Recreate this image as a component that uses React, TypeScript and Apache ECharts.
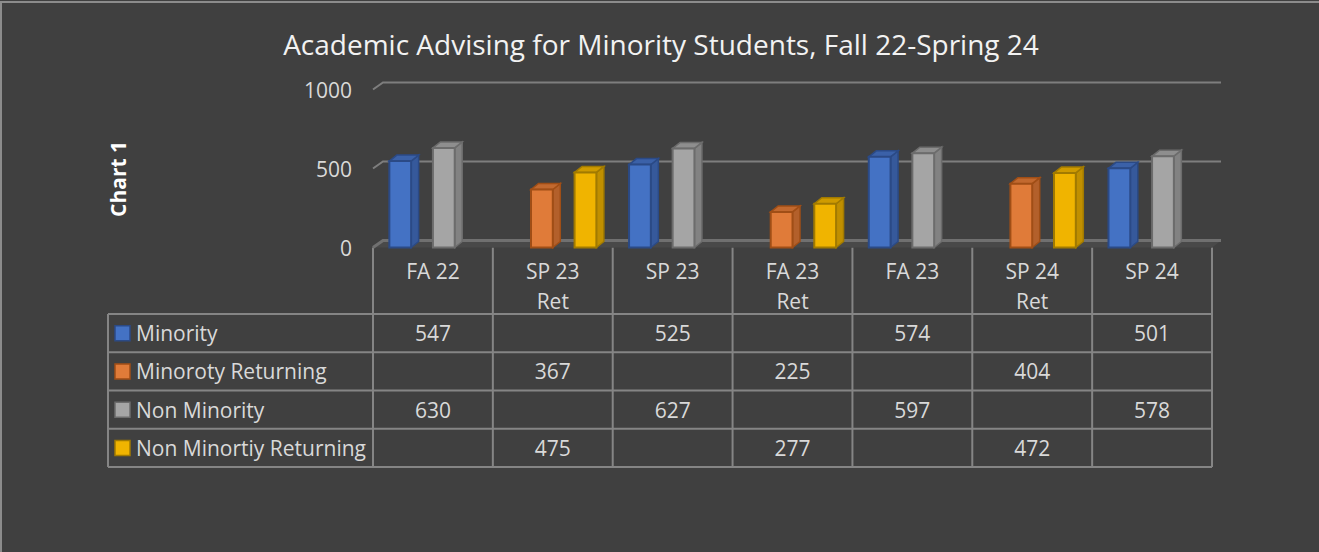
import React, { useEffect, useRef } from "react";
import * as echarts from "echarts";

const categories = ["FA 22", "SP 23\nRet", "SP 23", "FA 23\nRet", "FA 23", "SP 24\nRet", "SP 24"];
const seriesNames = ["Minority", "Minoroty Returning", "Non Minority", "Non Minortiy Returning"];
const minority = [547, null, 525, null, 574, null, 501];
const minorityReturning = [null, 367, null, 225, null, 404, null];
const nonMinority = [630, null, 627, null, 597, null, 578];
const nonMinorityReturning = [null, 475, null, 277, null, 472, null];
const yTicks = [0, 500, 1000];

const seriesValues = [minority, minorityReturning, nonMinority, nonMinorityReturning];
const faceColors = ["#4472C4", "#E07B39", "#A5A5A5", "#F0B400"];
const sideColors = ["#36599B", "#B3602B", "#828282", "#C08F00"];
const topColors = ["#3B61A8", "#C2692F", "#8E8E8E", "#CF9B00"];
const edgeColors = ["#2B4A86", "#A04E16", "#6C6C6C", "#A17A00"];

const FONT = "'Open Sans', 'DejaVu Sans', sans-serif";
const W = 1319;
const H = 552;
const DIV_W = W + 12;
const GRID_LEFT = 373;
const GRID_RIGHT_X = 1212;
const FLOOR_Y = 247.5;
const TOP_Y = 89.5;
const DX = 7.5;
const DY = -6;
const WALL_DX = 10;
const WALL_DY = -7;
const TABLE_LEFT = 108;
const ROW_Y = [314, 352.25, 390.5, 428.75, 467];
const TEXT_COLOR = "#d9d9d9";
const LINE_COLOR = "#858585";

export default function App() {
  const ref = useRef<HTMLDivElement>(null);

  useEffect(() => {
    document.body.style.margin = "0";
    document.body.style.background = "#404040";
    document.documentElement.style.background = "#404040";
    document.body.style.overflow = "hidden";
    document.documentElement.style.overflow = "hidden";
    const chart = echarts.init(ref.current!, null, { renderer: "svg" });
    const colW = (GRID_RIGHT_X - GRID_LEFT) / categories.length;

    const graphics: any[] = [];
    // outer border (top and left edges visible)
    graphics.push({
      type: "polyline",
      shape: { points: [[1, H + 10], [1, 2], [DIV_W + 10, 2]] },
      style: { fill: "none", stroke: "#8c8c8c", lineWidth: 2 },
      silent: true,
    });
    // title
    graphics.push({
      type: "text",
      x: 661,
      y: 43.5,
      style: {
        text: "Academic Advising for Minority Students, Fall 22-Spring 24",
        fill: "#f2f2f2",
        font: `28px ${FONT}`,
        textAlign: "center",
        textVerticalAlign: "middle",
      },
    });
    // axis title
    graphics.push({
      type: "text",
      x: 118,
      y: 179,
      rotation: Math.PI / 2,
      style: {
        text: "Chart 1",
        fill: "#ffffff",
        font: `bold 21px ${FONT}`,
        textAlign: "center",
        textVerticalAlign: "middle",
      },
    });
    // table horizontal lines
    ROW_Y.forEach((y) => {
      graphics.push({
        type: "line",
        shape: { x1: TABLE_LEFT, y1: y, x2: GRID_RIGHT_X, y2: y },
        style: { stroke: LINE_COLOR, lineWidth: 2 },
        silent: true,
      });
    });
    // table left border
    graphics.push({
      type: "line",
      shape: { x1: TABLE_LEFT, y1: ROW_Y[0], x2: TABLE_LEFT, y2: ROW_Y[ROW_Y.length - 1] },
      style: { stroke: LINE_COLOR, lineWidth: 2 },
      silent: true,
    });
    // column separators
    for (let i = 0; i <= categories.length; i++) {
      const x = GRID_LEFT + i * colW;
      graphics.push({
        type: "line",
        shape: { x1: x, y1: FLOOR_Y, x2: x, y2: ROW_Y[ROW_Y.length - 1] },
        style: { stroke: LINE_COLOR, lineWidth: 2 },
        silent: true,
      });
    }
    // legend keys + values
    seriesNames.forEach((name, r) => {
      const cy = (ROW_Y[r] + ROW_Y[r + 1]) / 2;
      graphics.push({
        type: "rect",
        shape: { x: 115, y: cy - 7.5, width: 15, height: 15 },
        style: { fill: faceColors[r], stroke: edgeColors[r], lineWidth: 1.5 },
      });
      graphics.push({
        type: "text",
        x: 136,
        y: cy,
        style: {
          text: name,
          fill: TEXT_COLOR,
          font: `21px ${FONT}`,
          textAlign: "left",
          textVerticalAlign: "middle",
        },
      });
      seriesValues[r].forEach((v, c) => {
        if (v == null) return;
        graphics.push({
          type: "text",
          x: GRID_LEFT + (c + 0.5) * colW,
          y: cy,
          style: {
            text: String(v),
            fill: TEXT_COLOR,
            font: `21px ${FONT}`,
            textAlign: "center",
            textVerticalAlign: "middle",
          },
        });
      });
    });

    const gridSeries = {
      type: "custom",
      name: "grid",
      silent: true,
      clip: false,
      z: 1,
      data: yTicks.map((v) => [0, v]),
      encode: { x: 0, y: 1 },
      renderItem: (params: any, api: any) => {
        const v = api.value(1);
        const band = api.size([1, 0])[0];
        const p0 = api.coord([0, v]);
        const p1 = api.coord([categories.length - 1, v]);
        const left = p0[0] - band / 2;
        const right = p1[0] + band / 2;
        const y = p0[1];
        const children: any[] = [];
        if (v === 0) {
          children.push({
            type: "polygon",
            shape: {
              points: [
                [left, y],
                [left + WALL_DX, y + WALL_DY],
                [right + WALL_DX - 1, y + WALL_DY],
                [right, y],
              ],
            },
            style: { fill: "#494949" },
          });
        }
        children.push({
          type: "polyline",
          shape: {
            points: [
              [left, y],
              [left + WALL_DX, y + WALL_DY],
              [right + WALL_DX - 1, y + WALL_DY],
            ],
          },
          style: { stroke: v === 0 ? "#707070" : "#7e7e7e", lineWidth: v === 0 ? 3 : 2, fill: "none" },
        });
        return { type: "group", children };
      },
    };

    const barSeries = seriesValues.map((vals, k) => ({
      type: "custom",
      name: seriesNames[k],
      clip: false,
      z: 2,
      data: vals.flatMap((v, i) => (v == null ? [] : [[i, v]])),
      encode: { x: 0, y: 1 },
      renderItem: (params: any, api: any) => {
        const ci = api.value(0);
        const val = api.value(1);
        const base = api.coord([ci, 0]);
        const top = api.coord([ci, val]);
        const band = api.size([1, 0])[0];
        const slot = band / 5.5;
        const x0 = base[0] - band / 2 + 0.75 * slot + k * slot;
        const w = slot;
        const yb = base[1];
        const yt = top[1];
        return {
          type: "group",
          children: [
            {
              type: "polygon",
              shape: {
                points: [
                  [x0 + w, yt],
                  [x0 + w + DX, yt + DY],
                  [x0 + w + DX, yb + DY],
                  [x0 + w, yb],
                ],
              },
              style: { fill: sideColors[k], stroke: edgeColors[k], lineWidth: 1.5 },
            },
            {
              type: "polygon",
              shape: {
                points: [
                  [x0, yt],
                  [x0 + DX, yt + DY],
                  [x0 + w + DX, yt + DY],
                  [x0 + w, yt],
                ],
              },
              style: { fill: topColors[k], stroke: edgeColors[k], lineWidth: 1.5 },
            },
            {
              type: "rect",
              shape: { x: x0, y: yt, width: w, height: yb - yt },
              style: { fill: faceColors[k], stroke: edgeColors[k], lineWidth: 2 },
            },
          ],
        };
      },
    }));

    chart.setOption({
      animation: false,
      backgroundColor: "#404040",
      textStyle: { fontFamily: FONT },
      grid: {
        left: GRID_LEFT,
        width: GRID_RIGHT_X - GRID_LEFT,
        top: TOP_Y,
        bottom: H - FLOOR_Y,
        containLabel: false,
      },
      xAxis: {
        type: "category",
        data: categories,
        axisLine: { show: false },
        axisTick: { show: false },
        splitLine: { show: false },
        axisLabel: {
          interval: 0,
          color: TEXT_COLOR,
          fontSize: 21,
          lineHeight: 30,
          margin: 8,
          fontFamily: FONT,
        },
      },
      yAxis: {
        type: "value",
        min: 0,
        max: 1000,
        interval: 500,
        axisLine: { show: false },
        axisTick: { show: false },
        splitLine: { show: false },
        axisLabel: {
          color: TEXT_COLOR,
          fontSize: 21,
          margin: 21,
          fontFamily: FONT,
          formatter: (v: number) => String(v),
        },
      },
      graphic: graphics,
      series: [gridSeries, ...barSeries],
    });

    return () => chart.dispose();
  }, []);

  return <div ref={ref} style={{ width: DIV_W, height: H }} />;
}
